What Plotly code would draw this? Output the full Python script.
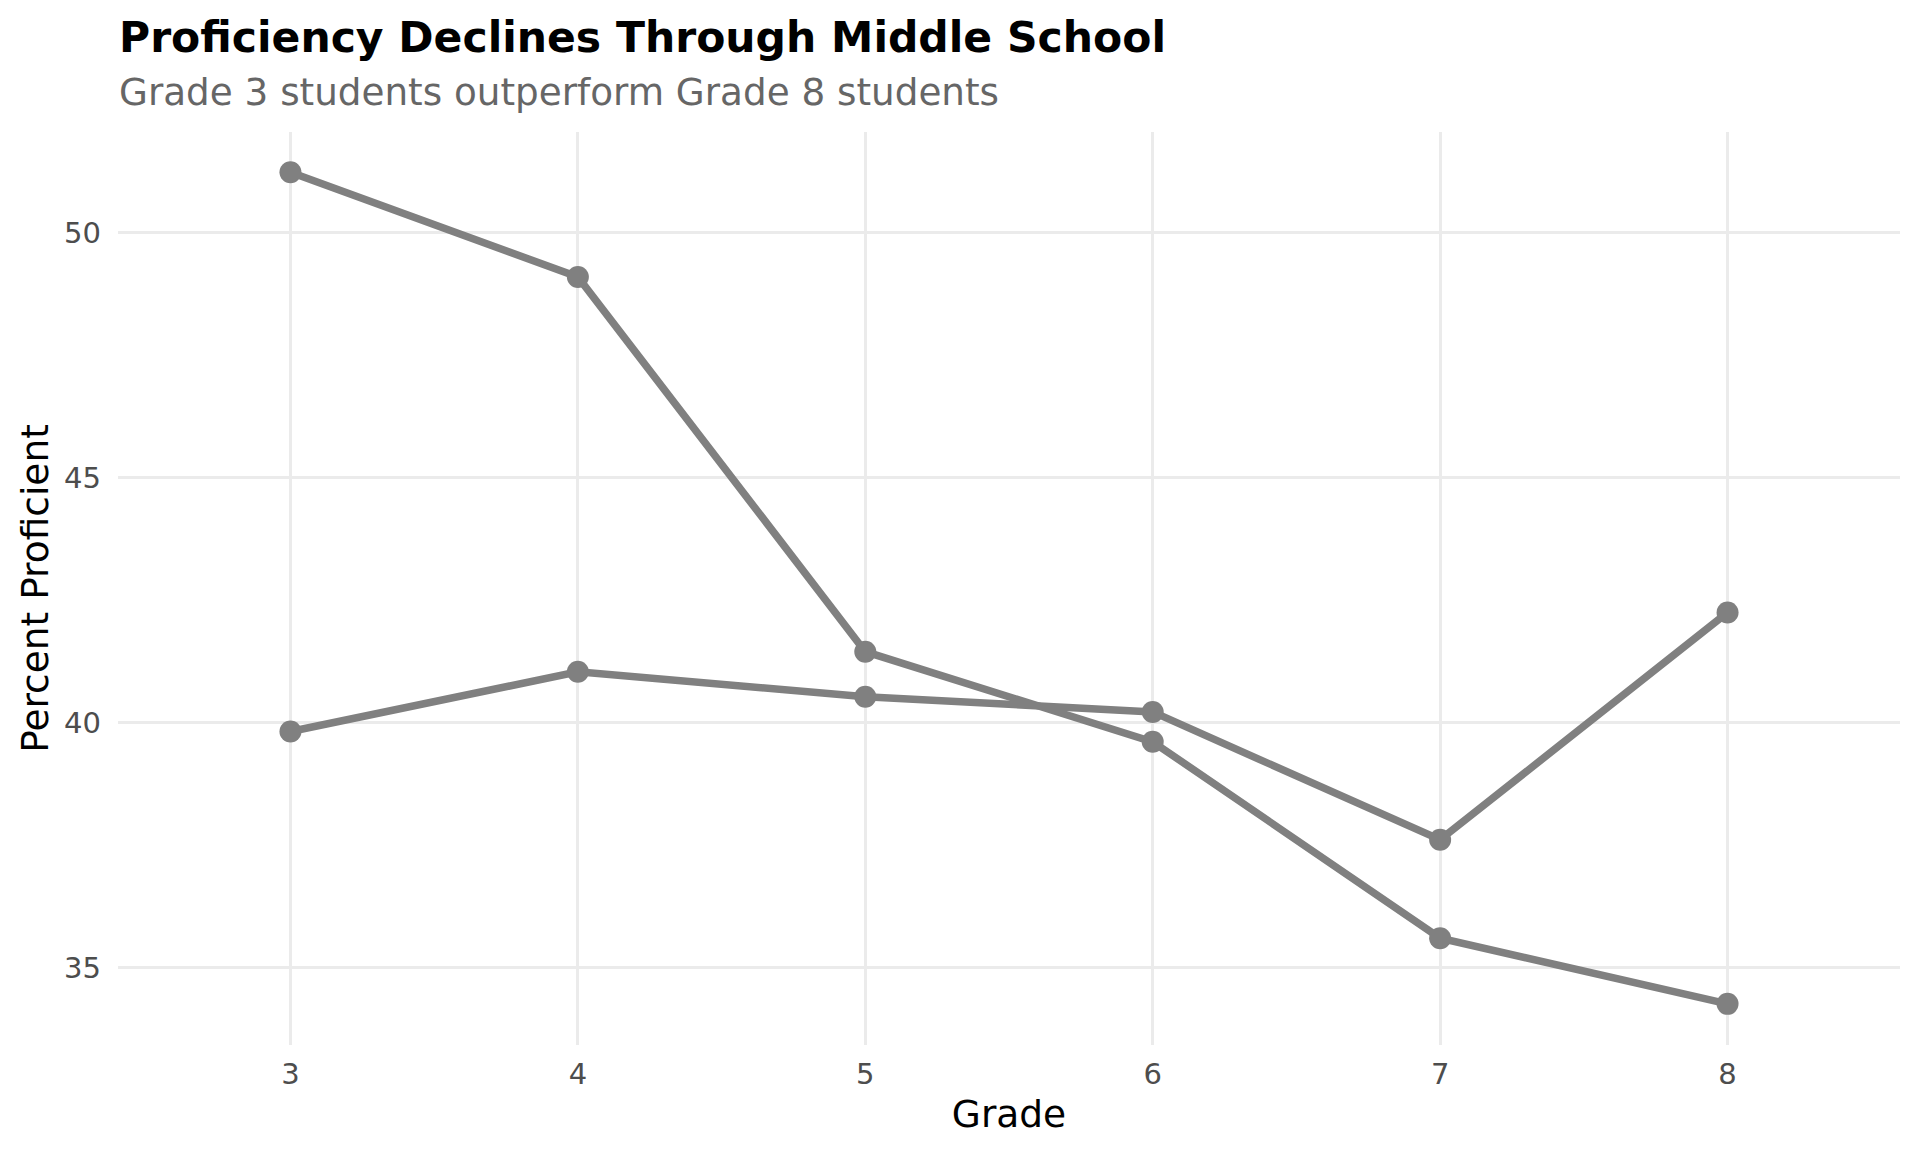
import plotly.graph_objects as go

# --- Data ---
grades = [3, 4, 5, 6, 7, 8]
cohort_a = [51.24, 49.10, 41.45, 39.61, 35.60, 34.26]
cohort_b = [39.82, 41.04, 40.53, 40.22, 37.61, 42.25]
y_ticks = [35, 40, 45, 50]

title_text = "<b>Proficiency Declines Through Middle School</b>"
subtitle_text = "Grade 3 students outperform Grade 8 students"

line_color = "#808080"
font_family = "DejaVu Sans"

# the page body adds an 8px offset, so the margins are set a bit smaller
page_offset = 8
plot_left, plot_right = 118.3, 1900.5
plot_top, plot_bottom = 131.7, 1045.0
plot_w = plot_right - plot_left
plot_h = plot_bottom - plot_top


def paper_y(py):
    return (plot_bottom - py) / plot_h


fig = go.Figure()

for name, values in [("Cohort A", cohort_a), ("Cohort B", cohort_b)]:
    fig.add_trace(go.Scatter(
        x=grades,
        y=values,
        name=name,
        mode="lines+markers",
        line=dict(color=line_color, width=7.5),
        marker=dict(color=line_color, size=22),
        hovertemplate="Grade %{x}<br>%{y:.1f}%<extra></extra>"
    ))

# --- Title / subtitle ---
fig.add_annotation(
    text=title_text, xref="paper", yref="paper",
    x=-1.5 / plot_w, y=paper_y(37), xanchor="left", yanchor="middle",
    showarrow=False, font=dict(family=font_family, size=42.5, color="black")
)
fig.add_annotation(
    text=subtitle_text, xref="paper", yref="paper",
    x=-1.5 / plot_w, y=paper_y(92), xanchor="left", yanchor="middle",
    showarrow=False, font=dict(family=font_family, size=37.3, color="#666666")
)

# --- Layout ---
fig.update_layout(
    width=1920,
    height=1152,
    showlegend=False,
    plot_bgcolor="white",
    paper_bgcolor="white",
    font=dict(family=font_family, size=29, color="#4D4D4D"),
    margin=dict(
        l=plot_left - page_offset,
        r=1920 - plot_right + page_offset,
        t=plot_top - page_offset,
        b=1152 - plot_bottom + page_offset,
        autoexpand=False,
    ),
    xaxis=dict(
        range=[2.4, 8.6],
        tickvals=grades,
        ticktext=[str(g) for g in grades],
        showgrid=True,
        gridcolor="#EBEBEB",
        gridwidth=3,
        zeroline=False,
        showline=False,
        ticks="",
        ticklabelstandoff=9,
        tickfont=dict(size=29, color="#4D4D4D"),
        title=dict(text="Grade", standoff=10,
                   font=dict(size=37.5, color="black")),
    ),
    yaxis=dict(
        range=[33.42, 52.06],
        tickvals=y_ticks,
        showgrid=True,
        gridcolor="#EBEBEB",
        gridwidth=3,
        zeroline=False,
        showline=False,
        ticks="",
        ticklabelstandoff=16,
        tickfont=dict(size=29, color="#4D4D4D"),
        title=dict(text="Percent Proficient", standoff=3,
                   font=dict(size=37.5, color="black")),
    ),
)

fig.write_html("out.html")
